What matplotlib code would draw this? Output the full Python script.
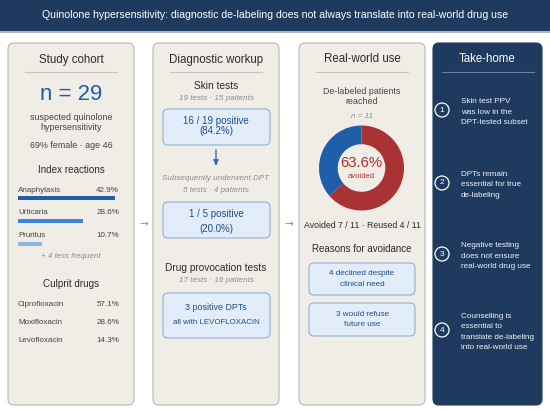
import matplotlib
matplotlib.use('Agg')
import matplotlib.pyplot as plt
from matplotlib.patches import FancyBboxPatch, Circle, Rectangle

plt.rcParams['font.family'] = ['Liberation Sans', 'DejaVu Sans']

# ---------------- data ----------------
title = ("Quinolone hypersensitivity: diagnostic de-labeling does not always "
         "translate into real-world drug use")
panel_titles = ["Study cohort", "Diagnostic workup", "Real-world use", "Take-home"]
cohort_n = 29
cohort_desc = ["suspected quinolone", "hypersensitivity"]
cohort_demo = "69% female \u00b7 age 46"
reaction_names = ["Anaphylaxis", "Urticaria", "Pruritus"]
reaction_pct = [42.9, 28.6, 10.7]
reaction_more = "+ 4 less frequent"
drug_names = ["Ciprofloxacin", "Moxifloxacin", "Levofloxacin"]
drug_pct = [57.1, 28.6, 14.3]
skin_tests, skin_patients, skin_pos = 19, 15, 16
sub_tests, sub_patients, sub_pos = 5, 4, 1
dpt_tests, dpt_patients, dpt_pos = 17, 16, 3
dpt_drug = "LEVOFLOXACIN"
rw_n = 11
rw_labels = ["Avoided", "Reused"]
rw_counts = [7, 4]
avoid_reasons = [["4 declined despite", "clinical need"],
                 ["3 would refuse", "future use"]]
takehome = [["Skin test PPV", "was low in the", "DPT-tested subset"],
            ["DPTs remain", "essential for true", "de-labeling"],
            ["Negative testing", "does not ensure", "real-world drug use"],
            ["Counselling is", "essential to", "translate de-labeling",
             "into real-world use"]]

# ---------------- style ----------------
NAVY = "#1f3a5f"
PANEL = "#f0ede7"
PBORDER = "#bcb8b1"
DBLUE = "#1f5ea8"
BAR_COLORS = ["#1f5ea8", "#3b86d9", "#8bb6e6"]
BOXF = "#e2edf9"
BOXE = "#8fb1da"
BOXT = "#1f4e8c"
GRAY = "#8c8c8c"
BODY = "#444444"
HEAD = "#2b2b2b"
RED = "#a93232"

W, H = 550, 413
fig = plt.figure(figsize=(W / 100, H / 100), dpi=100)
fig.patch.set_facecolor("white")
ax = fig.add_axes([0, 0, 1, 1])
ax.set_xlim(0, W)
ax.set_ylim(H, 0)
ax.axis("off")


def T(x, y, s, size, color=BODY, ha="center", style="normal", weight="normal",
      family=None):
    kw = {}
    if family:
        kw["family"] = family
    ax.text(x, y, s, fontsize=size, color=color, ha=ha, va="center",
            fontstyle=style, fontweight=weight, **kw)


def rbox(x0, y0, x1, y1, fc, ec, r=6, lw=0.8, z=1):
    ax.add_patch(FancyBboxPatch((x0, y0), x1 - x0, y1 - y0,
                                boxstyle=f"round,pad=0,rounding_size={r}",
                                fc=fc, ec=ec, lw=lw, zorder=z))


# title bar
ax.add_patch(Rectangle((0, 0), W, 31, fc=NAVY, ec="none"))
ax.add_patch(Rectangle((0, 31), W, 2, fc="#aab7c6", ec="none"))
T(W / 2, 15.5, title, 7.55, color="white")

# panels
panels = [(8, 134), (153, 279), (299, 425), (433, 542)]
PT, PB = 43, 405
for i, (x0, x1) in enumerate(panels):
    if i < 3:
        rbox(x0, PT, x1, PB, PANEL, PBORDER)
    else:
        rbox(x0, PT, x1, PB, NAVY, NAVY)
    cx = (x0 + x1) / 2
    T(cx, 59.5, panel_titles[i], 8.3, color="white" if i == 3 else HEAD)
    lc = "#6c819e" if i == 3 else "#c8c4bd"
    ax.plot([cx - 46, cx + 46], [71.5, 71.5], color=lc, lw=0.8)

# arrows between panels
for x in (143.5, 288.5):
    T(x, 224, "\u2192", 7.5, color="#8a8a8a", family=["DejaVu Sans"])

# ---------- panel 1 ----------
c1 = 71
T(c1, 94, f"n = {cohort_n}", 16, color=DBLUE)
T(c1, 117, cohort_desc[0], 6.4)
T(c1, 127.5, cohort_desc[1], 6.4)
T(c1, 145, cohort_demo, 6.4)
T(c1, 170, "Index reactions", 7.1, color=HEAD)
label_y = [190, 213, 235.5]
for name, p, y in zip(reaction_names, reaction_pct, label_y):
    T(18, y, name, 5.8, ha="left")
    T(119, y, f"{p:.1f}%", 5.8, ha="right")
bax = fig.add_axes([18 / W, 1 - 255.5 / H, 97 / W, 69 / H])
bax.barh(range(len(reaction_pct)), reaction_pct, height=0.18, color=BAR_COLORS)
bax.set_xlim(0, max(reaction_pct))
bax.set_ylim(len(reaction_pct) - 0.5, -0.5)
bax.axis("off")
T(c1, 256, reaction_more, 5.8, color=GRAY, style="italic")
T(c1, 284, "Culprit drugs", 7.1, color=HEAD)
for name, p, y in zip(drug_names, drug_pct, [305, 323, 340.5]):
    T(18, y, name, 5.8, ha="left")
    T(119, y, f"{p:.1f}%", 5.8, ha="right")

# ---------- panel 2 ----------
c2 = 216
T(c2, 86, "Skin tests", 7.3, color=HEAD)
T(c2, 98, f"{skin_tests} tests \u00b7 {skin_patients} patients", 5.8,
  color=GRAY, style="italic")
rbox(163, 109, 270, 145, BOXF, BOXE, r=5)
T(c2, 120.5, f"{skin_pos} / {skin_tests} positive", 7, color=BOXT)
T(c2, 131.5, f"({100 * skin_pos / skin_tests:.1f}%)", 7, color=BOXT)
ax.annotate("", xy=(c2, 169), xytext=(c2, 147),
            arrowprops=dict(arrowstyle="-|>,head_length=0.35,head_width=0.15",
                            color="#3b6fb5", lw=1))
T(c2, 179, "Subsequently underwent DPT", 5.8, color=GRAY, style="italic")
T(c2, 191, f"{sub_tests} tests \u00b7 {sub_patients} patients", 5.8,
  color=GRAY, style="italic")
rbox(163, 202, 270, 238, BOXF, BOXE, r=5)
T(c2, 214, f"{sub_pos} / {sub_tests} positive", 7, color=BOXT)
T(c2, 229, f"({100 * sub_pos / sub_tests:.1f}%)", 7, color=BOXT)
T(c2, 268, "Drug provocation tests", 7.3, color=HEAD)
T(c2, 281, f"{dpt_tests} tests \u00b7 {dpt_patients} patients", 5.8,
  color=GRAY, style="italic")
rbox(163, 293, 270, 338, BOXF, BOXE, r=5)
T(c2, 308, f"{dpt_pos} positive DPTs", 6.4, color=BOXT)
T(c2, 323, f"all with {dpt_drug}", 5.7, color=BOXT)

# ---------- panel 3 ----------
c3 = 362
T(c3, 91, "De-labeled patients", 6.4)
T(c3, 102, "reached", 6.4)
T(c3, 116, f"n = {rw_n}", 5.8, color=GRAY, style="italic")
dcx, dcy, dr = 361.5, 168, 42.5
dax = fig.add_axes([(dcx - dr) / W, 1 - (dcy + dr) / H, 2 * dr / W, 2 * dr / H])
dax.pie(rw_counts, colors=[RED, DBLUE], startangle=90, counterclock=False,
        wedgeprops=dict(width=0.44, edgecolor="none"))
dax.set_xlim(-1, 1)
dax.set_ylim(-1, 1)
dax.set_aspect("equal")
dax.axis("off")
share = 100 * rw_counts[0] / sum(rw_counts)
T(dcx, 163, f"{share:.1f}%", 10.7, color=RED)
T(dcx, 177, "avoided", 5.5, color=RED)
T(c3, 225.5, f"{rw_labels[0]} {rw_counts[0]} / {rw_n} \u00b7 "
  f"{rw_labels[1]} {rw_counts[1]} / {rw_n}", 6.3, color=HEAD)
T(c3, 249, "Reasons for avoidance", 7.0, color=HEAD)
for (l1, l2), (y0, y1) in zip(avoid_reasons, [(263, 295), (303, 336)]):
    rbox(309, y0, 415, y1, BOXF, BOXE, r=5)
    ym = (y0 + y1) / 2
    T(c3, ym - 5.5, l1, 5.9, color=BOXT)
    T(c3, ym + 5.5, l2, 5.9, color=BOXT)

# ---------- panel 4 ----------
circ_y = [110, 183, 254, 330]
for k, (lines, cy) in enumerate(zip(takehome, circ_y)):
    ax.add_patch(Circle((442, cy), 7, fc="none", ec="white", lw=0.9))
    T(442, cy, str(k + 1), 6, color="white")
    n = len(lines)
    for j, s in enumerate(lines):
        y = cy + 2 + (j - (n - 1) / 2) * 10.6
        T(461, y, s, 5.85, color="#eef2f6", ha="left")

fig.savefig("out.png", dpi=100, facecolor="white")
